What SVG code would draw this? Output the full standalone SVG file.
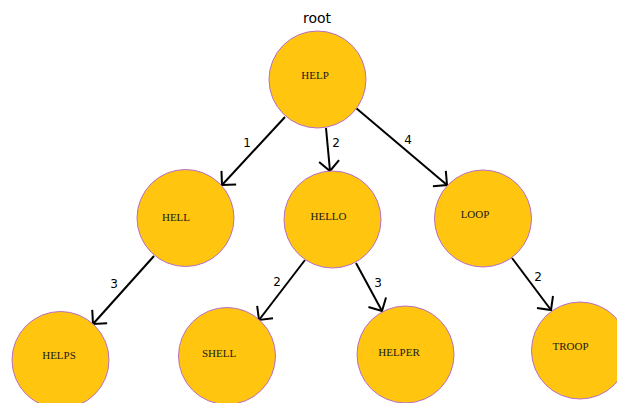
<svg xmlns="http://www.w3.org/2000/svg" width="617" height="403" viewBox="0 0 617 403">
<defs>
<marker id="arr" markerUnits="userSpaceOnUse" markerWidth="30" markerHeight="30" viewBox="-15 -15 30 30" refX="0" refY="0" orient="auto" overflow="visible">
<path d="M -10 -10 L 0 0 L -10 10" fill="none" stroke="#000" stroke-width="2"/>
</marker>
</defs>
<style>
.n{fill:#FFC50F;stroke:#B86FC8;stroke-width:1}
.t{font-family:"Liberation Serif","Times New Roman",serif;font-size:11px;fill:#1a1a1a}
.e{stroke:#000;stroke-width:2;fill:none;marker-end:url(#arr)}
.w{font-family:"DejaVu Sans",sans-serif;font-size:12px;fill:#000}
</style>
<rect width="617" height="403" fill="#fff"/>
<text x="317" y="23" font-family="DejaVu Sans, sans-serif" font-size="14" text-anchor="middle">root</text>
<g id="edges">
<line class="e" x1="285" y1="117" x2="222" y2="185"/>
<line class="e" x1="326" y1="128" x2="330" y2="171"/>
<line class="e" x1="356" y1="108" x2="447" y2="185"/>
<line class="e" x1="154" y1="256" x2="93" y2="324"/>
<line class="e" x1="305" y1="260" x2="259" y2="320"/>
<line class="e" x1="356" y1="263" x2="382" y2="311"/>
<line class="e" x1="512" y1="258" x2="551" y2="310"/>
<text class="w" x="247" y="147" text-anchor="middle">1</text>
<text class="w" x="336" y="147" text-anchor="middle">2</text>
<text class="w" x="408" y="144" text-anchor="middle">4</text>
<text class="w" x="114" y="288" text-anchor="middle">3</text>
<text class="w" x="277" y="286" text-anchor="middle">2</text>
<text class="w" x="378" y="287" text-anchor="middle">3</text>
<text class="w" x="538" y="281" text-anchor="middle">2</text>
</g>
<g id="HELP"><circle class="n" cx="317.5" cy="79.5" r="48.5"/><text class="t" x="315" y="79" text-anchor="middle">HELP</text></g>
<g id="HELL"><circle class="n" cx="185.5" cy="218" r="48.5"/><text class="t" x="176" y="220.5" text-anchor="middle">HELL</text></g>
<g id="HELLO"><circle class="n" cx="332.5" cy="219.5" r="48.5"/><text class="t" x="328.5" y="220" text-anchor="middle">HELLO</text></g>
<g id="LOOP"><circle class="n" cx="483" cy="218.5" r="48.5"/><text class="t" x="475" y="218" text-anchor="middle">LOOP</text></g>
<g id="HELPS"><circle class="n" cx="60.5" cy="360" r="48.5"/><text class="t" x="59" y="359" text-anchor="middle">HELPS</text></g>
<g id="SHELL"><circle class="n" cx="227" cy="356" r="48.5"/><text class="t" x="219" y="357" text-anchor="middle">SHELL</text></g>
<g id="HELPER"><circle class="n" cx="405.5" cy="354.5" r="48.5"/><text class="t" x="399" y="356" text-anchor="middle">HELPER</text></g>
<g id="TROOP"><circle class="n" cx="580" cy="350.5" r="48.5"/><text class="t" x="570.5" y="350" text-anchor="middle">TROOP</text></g>
</svg>
